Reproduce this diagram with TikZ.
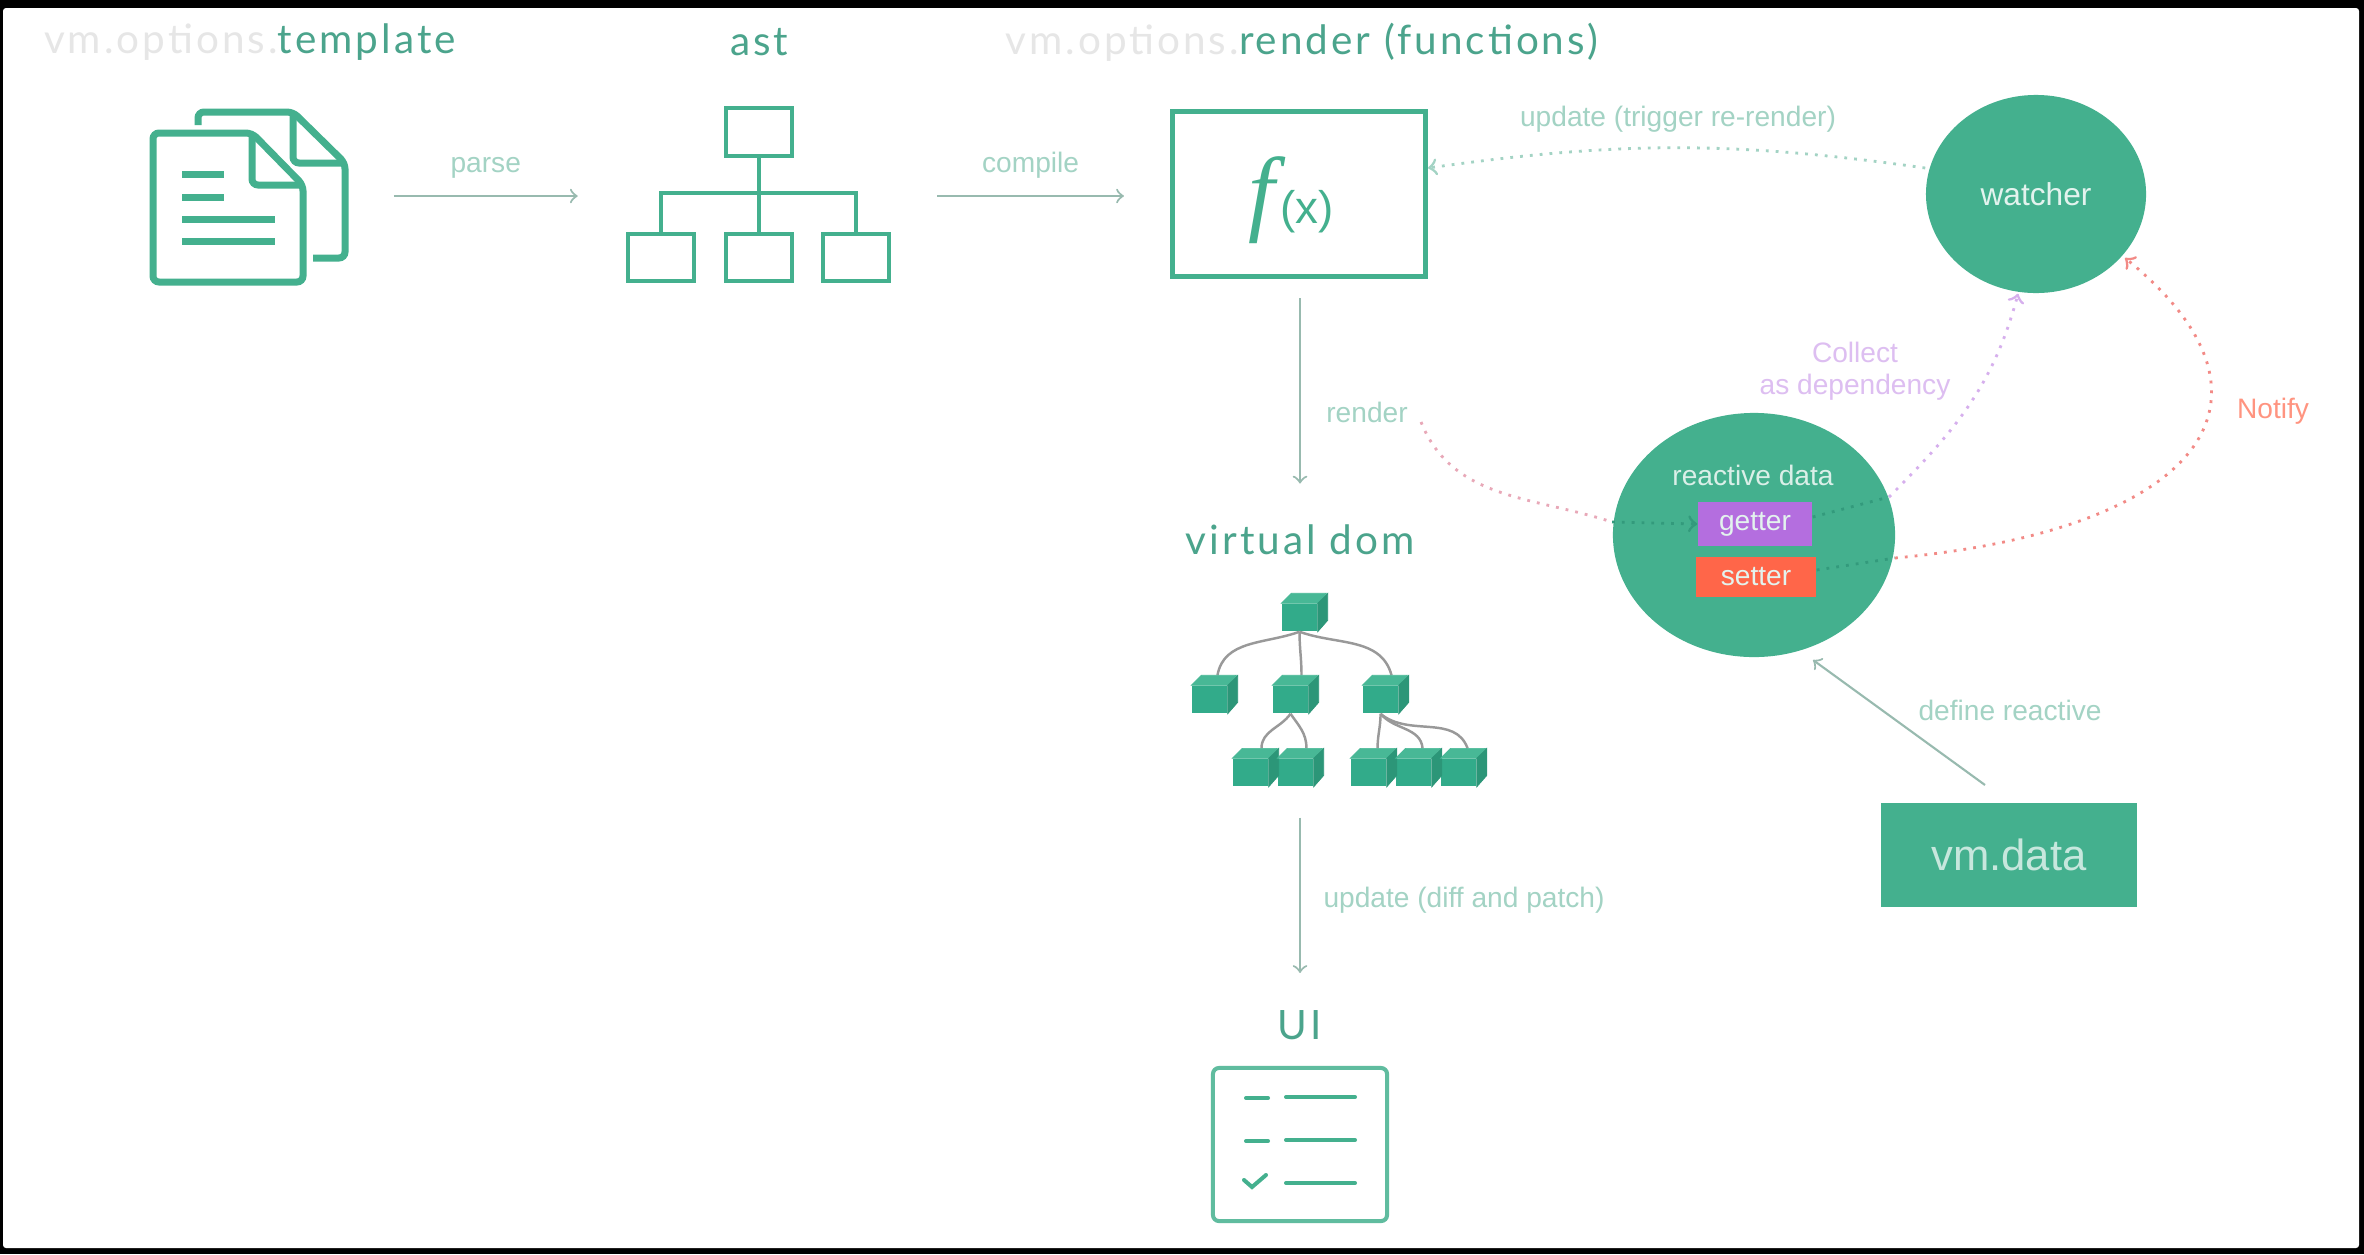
\documentclass[tikz,border=0pt]{standalone}
\usepackage{fontspec}
\setmainfont{Liberation Sans}
\newfontfamily\titlefont[LetterSpace=7.5]{Lato}
\newfontfamily\fxfont{Liberation Serif}
\usetikzlibrary{arrows,shapes,calc}
\usetikzlibrary{positioning,fit}
\definecolor{leaf}{HTML}{44B08E}
\definecolor{cubefront}{HTML}{32AB8A}
\definecolor{cubeside}{HTML}{2C9678}
\definecolor{cubetop}{HTML}{48B896}
\definecolor{headline}{HTML}{4BA48C}
\definecolor{note}{HTML}{A3D3C4}
\definecolor{faint}{HTML}{E6E6E6}
\definecolor{getcol}{HTML}{B46EDF}
\definecolor{setcol}{HTML}{FF6649}
\definecolor{pinkdot}{HTML}{E8A8B8}
\definecolor{innerdot}{HTML}{339A7C}
\tikzstyle{flow}=[draw,-to,line width=0.6pt,color=note!70!gray]
\tikzstyle{dots}=[draw,-to,line width=0.8pt,dotted]
\tikzstyle{inner}=[draw,color=innerdot,line width=0.8pt,dotted]
\tikzstyle{heading}=[text=headline,font=\titlefont\fontsize{11.5}{13}\selectfont]
\tikzstyle{tag}=[text=note,font=\fontsize{8}{9}\selectfont]
\tikzstyle{icon}=[draw=leaf,line width=0.07cm,rounded corners=0.06cm]
\tikzstyle{box} =
  [rectangle, draw=leaf, line width=0.04cm, inner sep=0pt,
   minimum width=0.66cm, minimum height=0.47cm]
\tikzstyle{cloud} =
  [ellipse, fill=leaf, inner sep=0pt, text=white!85!leaf]
\tikzstyle{plate} =
  [rectangle, inner sep=0pt, text=white!85!leaf, font=\fontsize{8}{10}\selectfont]
\tikzstyle{cube} =
  [rectangle, fill=cubefront, inner sep=0pt, minimum width=0.35cm, minimum height=0.27cm]
\tikzstyle{wire}=[draw,gray!80,line width=0.7pt]
\tikzstyle{rule}=[draw=leaf,line width=0.04cm,line cap=round]

\begin{document}
\begin{tikzpicture}[x=0.01cm,y=-0.01cm]
  \fill [black] (0,0) rectangle (2364,1254);
  \fill [white, rounded corners=0.03cm] (3,8) rectangle (2359,1248);

  % top row
  \node [heading] (tpl) at (250,42) {\textcolor{faint}{vm.options.}template};
  \node [heading, right of=tpl, node distance=5.09cm] (asttitle) {ast};
  \node [heading, right of=asttitle, node distance=5.42cm] (rendertitle) {\textcolor{faint}{vm.options.}render (functions)};

  \node [minimum width=1.92cm, minimum height=1.7cm, inner sep=0pt] (doc) at (249,196) {};
  \draw [icon] (252,133) -- (153,133) -- (153,282) -- (303,282) -- (303,185) -- cycle;
  \draw [icon] (252,133) -- (252,185) -- (303,185);
  \draw [icon] (198,125) -- (198,112) -- (293,112) -- (345,163) -- (345,258) -- (313,258);
  \draw [icon] (293,112) -- (293,163) -- (345,163);
  \foreach \ypos/\xend in {174/224,197/224,219/275,241/275}
    \draw [draw=leaf,line width=0.07cm] (182,\ypos) -- (\xend,\ypos);

  \node [box] (astroot) at (759,132) {};
  \node [box, below of=astroot, node distance=1.25cm] (astmid) {};
  \node [box, left of=astmid, node distance=0.975cm] (astleft) {};
  \node [box, right of=astmid, node distance=0.965cm] (astright) {};
  \node [fit=(astleft) (astright), inner sep=0pt] (asttree) {};
  \draw [rule] (astroot) -- (astmid);
  \draw [rule] (astleft) -- ++(0,-64) -| (astright);

  \node [rectangle, draw=leaf, line width=0.05cm, minimum width=2.53cm, minimum height=1.65cm] (fx) at (1299,194) {};
  \node [text=leaf] (fxlabel) at (1291,200) {\fxfont\itshape\fontsize{27}{27}\selectfont f\hspace{0.06em}\normalfont\rmfamily\fontsize{13}{13}\selectfont(x)};

  \draw [flow, shorten <=0.48cm, shorten >=0.48cm] (doc.east) -- (doc.east -| asttree.west) node [tag, midway, above=0.05cm] (parse) {parse};
  \draw [flow, shorten <=0.46cm, shorten >=0.46cm] (doc.east -| asttree.east) -- (doc.east -| fx.west) node [tag, midway, above=0.05cm] (compile) {compile};

  % watcher and data
  \node [cloud, minimum width=2.2cm, minimum height=1.98cm, font=\fontsize{9}{11}\selectfont] (watcher) at (2036,194) {watcher};
  \node [tag] (update) at (1678,119) {update (trigger re-render)};
  \draw [dots, color=note] (watcher.west |- 0,168) to [out=172,in=8] (fx.east |- 0,168);

  \node [cloud, minimum width=2.82cm, minimum height=2.44cm] (reactive) at (1754,535) {};
  \node [tag, text=white!80!leaf] (reactivedata) at (1753,475) {reactive data};
  \node [plate, fill=getcol, minimum width=1.14cm, minimum height=0.44cm] (getter) at (1755,524) {getter};
  \node [plate, fill=setcol, minimum width=1.2cm, minimum height=0.4cm] (setter) at (1756,577) {setter};

  \node [tag] (renderlabel) at (1367,412) {render};
  \node [tag, text=getcol!45!white, align=center] (collect) at (1855,371) {Collect\\as dependency};
  \node [tag, text=setcol!70!white] (notify) at (2273,411) {Notify};
  \coordinate (renderin) at (1612,522);
  \coordinate (collectout) at (1889,497);
  \coordinate (notifyout) at (1895,558);
  \coordinate (renderout) at (1421,422);
  \draw [dots, -, color=pinkdot] (renderout) to [out=292,in=162] (renderin);
  \draw [inner, -to] (renderin) -- (getter.west);
  \draw [inner] (getter.east |- 0,517) -- (collectout);
  \draw [dots, color=getcol!55!white] (collectout) to [out=45,in=255] (watcher.south -| 2018,0);
  \draw [inner] (setter.east |- 0,570) -- (notifyout);
  \draw [dots, color=setcol!45!pinkdot] (notifyout) .. controls (2200,530) and (2300,400) .. (2125,258);

  \node [rectangle, fill=leaf, text=white!70!leaf, inner sep=0pt, minimum width=2.56cm, minimum height=1.03cm, font=\fontsize{12.4}{14}\selectfont] (vmdata) at (2009,855) {vm.data};
  \node [tag] (define) at (2010,710) {define reactive};
  \coordinate (definefrom) at (1985,785);
  \draw [flow] (definefrom) -- (1813,660);

  % virtual dom column
  \node [heading] (vdom) at (1300,540) {virtual dom};
  \draw [flow, shorten <=0.19cm, shorten >=0.29cm] (fx.south -| vdom.north) -- (vdom.north);

  \node [cube] (vroot) at (1299.5,617.5) {};
  \node [cube, below of=vroot, node distance=0.82cm, xshift=-0.9cm] (va) {};
  \node [cube, below of=vroot, node distance=0.82cm, xshift=-0.09cm] (vb) {};
  \node [cube, below of=vroot, node distance=0.82cm, xshift=0.81cm] (vc) {};
  \node [cube, below of=vb, node distance=0.73cm, xshift=-0.4cm] (vd) {};
  \node [cube, right of=vd, node distance=0.45cm] (ve) {};
  \node [cube, below of=vc, node distance=0.73cm, xshift=-0.12cm] (vf) {};
  \node [cube, right of=vf, node distance=0.45cm] (vg) {};
  \node [cube, right of=vg, node distance=0.45cm] (vh) {};
  \node [fit=(va) (vh), inner sep=0pt] (vtree) {};

  \draw [wire] (vroot.south) to [out=200,in=80] ([shift={(8,-10)}]va.north);
  \draw [wire] (vroot.south) to [out=270,in=90] ([shift={(11,-10)}]vb.north);
  \draw [wire] (vroot.south) to [out=340,in=105] ([shift={(11,-10)}]vc.north);
  \draw [wire] (vb.south) to [out=235,in=90] ([shift={(11,-10)}]vd.north);
  \draw [wire] (vb.south) to [out=305,in=90] ([shift={(11,-10)}]ve.north);
  \draw [wire] (vc.south) to [out=270,in=90] ([shift={(9,-10)}]vf.north);
  \draw [wire] (vc.south) to [out=310,in=95] ([shift={(9,-10)}]vg.north);
  \draw [wire] (vc.south) to [out=320,in=110] ([shift={(9,-10)}]vh.north);

  \foreach \n in {vroot,va,vb,vc,vd,ve,vf,vg,vh} {
    \path [fill=cubetop, draw=cubetop, line width=0.2pt] (\n.north west) -- ++(10,-10) -- ++(35,0) -- (\n.north east) -- cycle;
    \path [fill=cubeside, draw=cubeside, line width=0.2pt] (\n.north east) -- ++(10,-10) -- ++(0,27) -- (\n.south east) -- cycle;
  }

  \node [heading] (ui) at (1300,1025) {UI};
  \draw [flow, shorten <=0.3cm, shorten >=0.25cm] (ui.north |- vtree.south) -- (ui.north);
  \node [tag] (diff) at (1464,900) {update (diff and patch)};

  \node [rectangle, draw=leaf!85!white, line width=0.04cm, rounded corners=0.06cm, minimum width=1.74cm, minimum height=1.53cm] (uibox) at (1300,1144.5) {};
  \foreach \ypos in {1098,1141}
    \draw [rule] (1246,\ypos) -- (1268,\ypos);
  \foreach \ypos in {1097,1140,1183}
    \draw [rule] (1286,\ypos) -- (1355,\ypos);
  \draw [rule] (1244,1180) -- (1252,1187) -- (1266,1175);
\end{tikzpicture}
\end{document}
